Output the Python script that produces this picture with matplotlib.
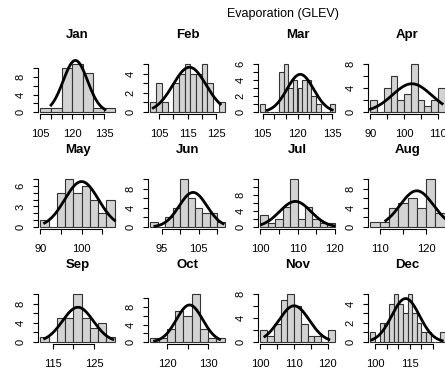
import numpy as np
import matplotlib.pyplot as plt

plt.rcParams['font.family'] = ['Liberation Sans', 'DejaVu Sans']

months = ['Jan', 'Feb', 'Mar', 'Apr', 'May', 'Jun',
          'Jul', 'Aug', 'Sep', 'Oct', 'Nov', 'Dec']

# histogram bins: first break and bin width, then the counts per bin
bin_start = [105, 102, 104, 90, 90, 92, 100, 108, 112, 116, 100, 98]
bin_width = [5, 2, 2, 2, 2, 2, 2, 2, 2, 2, 2, 2]
counts = [
    [1, 1, 10, 11, 9, 1, 1],
    [1, 3, 1, 0, 3, 4, 5, 4, 4, 5, 3, 0, 1],
    [1, 0, 0, 0, 5, 6, 3, 4, 3, 4, 4, 2, 1, 0, 0, 1],
    [2, 0, 4, 6, 2, 3, 8, 2, 1, 2, 4],
    [1, 0, 5, 7, 5, 6, 4, 2, 4],
    [1, 0, 2, 4, 10, 6, 4, 3, 3, 1],
    [3, 1, 2, 5, 12, 2, 5, 2, 1, 1],
    [1, 1, 4, 5, 6, 4, 10, 3],
    [1, 0, 5, 5, 10, 5, 3, 4, 1],
    [1, 1, 3, 7, 6, 11, 3, 1, 1],
    [2, 1, 3, 7, 8, 6, 3, 1, 1, 0, 2],
    [1, 0, 2, 2, 4, 5, 4, 3, 5, 3, 2, 1, 1, 0, 0, 1],
]

# fitted normal curve (mean, sd) and the x range it is drawn over
curve_mean = [121.5, 115.7, 121.2, 102.3, 100.0, 103.5, 109.4, 118.0, 121.1, 125.5, 110.0, 113.2]
curve_sd = [5.75, 5.83, 5.77, 5.77, 4.1, 3.77, 4.24, 3.6, 3.75, 3.2, 4.5, 6.0]
curve_lo = [110, 103, 107, 90, 91, 93.2, 100.3, 111.3, 113, 117, 101.3, 98.5]
curve_hi = [135.5, 126.5, 135, 111.3, 108, 111.6, 119.8, 126, 129.6, 132.8, 120.3, 129]

# axis ticks
xtick_first = [105, 105, 105, 90, 90, 95, 100, 110, 115, 120, 100, 100]
xtick_last = [135, 125, 135, 110, 105, 110, 120, 120, 125, 130, 120, 125]
xlabel_every = [3, 2, 3, 2, 2, 2, 2, 2, 2, 2, 2, 3]
ytick_last = [10, 5, 6, 8, 7, 10, 12, 10, 10, 10, 8, 5]
ytick_step = [2, 1, 1, 2, 1, 2, 2, 2, 2, 2, 2, 1]
ylabel_every = [2, 2, 2, 2, 3, 2, 2, 2, 2, 2, 2, 2]
ylabel_last = [8, 4, 6, 8, 6, 8, 8, 8, 8, 8, 8, 4]

W, H = 445, 371
fig = plt.figure(figsize=(W / 100, H / 100), dpi=100)

col_left = [37.5, 147.5, 257.5, 367.5]
row_bottom = [114, 229, 344]
pw, ph = 80, 52

for i, m in enumerate(months):
    r, c = divmod(i, 4)
    ax = fig.add_axes([col_left[c] / W, 1 - row_bottom[r] / H, pw / W, ph / H])

    cnt = np.array(counts[i])
    bw = bin_width[i]
    edges = bin_start[i] + bw * np.arange(len(cnt) + 1)
    ax.bar(edges[:-1], cnt, width=bw, align='edge', color='#d3d3d3',
           edgecolor='#333333', linewidth=0.8)

    xs = np.linspace(curve_lo[i], curve_hi[i], 200)
    ys = cnt.sum() * bw * np.exp(-0.5 * ((xs - curve_mean[i]) / curve_sd[i]) ** 2) / (curve_sd[i] * np.sqrt(2 * np.pi))
    ax.plot(xs, ys, color='black', lw=2, clip_on=False)

    # R style limits: 4% padding around breaks and counts
    xr = edges[-1] - edges[0]
    ax.set_xlim(edges[0] - 0.04 * xr, edges[-1] + 0.04 * xr)
    ymax = cnt.max()
    ax.set_ylim(-0.04 * ymax, ymax * 1.04)

    xt = np.arange(xtick_first[i], xtick_last[i] + 1, 5)
    ax.set_xticks(xt)
    ax.set_xticklabels([str(v) if k % xlabel_every[i] == 0 else '' for k, v in enumerate(xt)])
    yt = np.arange(0, ytick_last[i] + 1, ytick_step[i])
    ax.set_yticks(yt)
    ax.set_yticklabels([str(v) if k % ylabel_every[i] == 0 and v <= ylabel_last[i] else ''
                        for k, v in enumerate(yt)], rotation=90, va='center')

    for s in ['top', 'right']:
        ax.spines[s].set_visible(False)
    ax.spines['bottom'].set_bounds(xt[0], xt[-1])
    ax.spines['left'].set_bounds(0, yt[-1])
    for s in ['bottom', 'left']:
        ax.spines[s].set_linewidth(0.8)
    ax.tick_params(axis='x', length=3.6, width=0.8, labelsize=8, pad=7)
    ax.tick_params(axis='y', length=3.6, width=0.8, labelsize=8, pad=5)
    ax.patch.set_alpha(0)

    top_px = row_bottom[r] - ph
    fig.text((col_left[c] + pw / 2) / W, 1 - (top_px - 27) / H, m,
             ha='center', va='center', fontsize=9.5, fontweight='bold')

fig.text(283 / W, 1 - 14 / H, 'Evaporation (GLEV)', ha='center', va='center', fontsize=9)

fig.savefig('out.png', dpi=100)
